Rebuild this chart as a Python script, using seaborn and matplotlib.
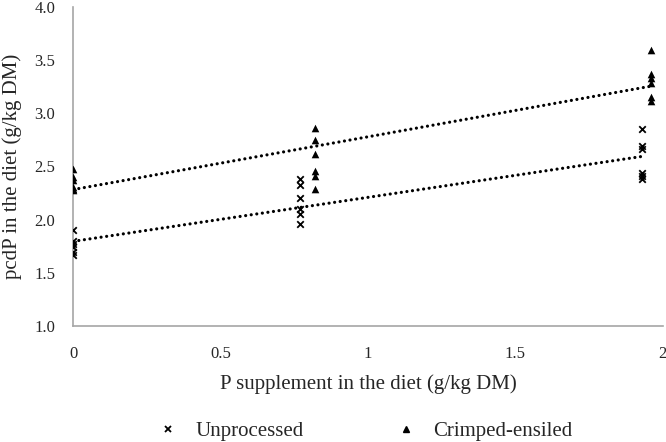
import numpy as np
import pandas as pd
import seaborn as sns
import matplotlib.pyplot as plt
from matplotlib.lines import Line2D

# P supplement (g/kg DM) and pcdP (g/kg DM) per observation
unproc_x = [0, 0, 0, 0, 0, 0,
            0.77, 0.77, 0.77, 0.77, 0.77, 0.77,
            1.93, 1.93, 1.93, 1.93, 1.93, 1.93]
unproc_y = [1.90, 1.80, 1.77, 1.74, 1.70, 1.67,
            2.38, 2.33, 2.20, 2.10, 2.05, 1.96,
            2.85, 2.69, 2.66, 2.44, 2.41, 2.38]
crimp_x = [0, 0, 0, 0, 0, 0,
           0.82, 0.82, 0.82, 0.82, 0.82, 0.82,
           1.96, 1.96, 1.96, 1.96, 1.96, 1.96]
crimp_y = [2.48, 2.40, 2.37, 2.31, 2.29, 2.28,
           2.86, 2.75, 2.62, 2.46, 2.41, 2.29,
           3.59, 3.37, 3.33, 3.28, 3.15, 3.11]
series_names = ["Unprocessed", "Crimped-ensiled"]

df = pd.DataFrame({
    "x": unproc_x + crimp_x,
    "y": unproc_y + crimp_y,
    "group": [series_names[0]] * len(unproc_x) + [series_names[1]] * len(crimp_x),
})

sns.set_style("white")
plt.rcParams["font.family"] = ["Liberation Serif", "DejaVu Serif"]

fig = plt.figure(figsize=(6.66, 4.42), dpi=100)
ax = fig.add_axes([0.11, 0.262, 0.885, 0.723])

markers = {"Unprocessed": "x", "Crimped-ensiled": "^"}
sizes = {"Unprocessed": 22, "Crimped-ensiled": 30}
for name in series_names:
    sub = df[df["group"] == name]
    # Excel-style linear trendline across the data range
    sns.regplot(data=sub, x="x", y="y", ax=ax, scatter=False, ci=None, truncate=True,
                line_kws=dict(color="black", lw=2.3, linestyle=(0, (0.01, 1.75)),
                              dash_capstyle="round", solid_capstyle="round"))
    sns.scatterplot(data=sub, x="x", y="y", ax=ax, marker=markers[name], color="black",
                    s=sizes[name], linewidth=1.3 if name == "Unprocessed" else 0,
                    edgecolor="black", legend=False, zorder=3)

ax.set_xlim(0, 2)
ax.set_ylim(1.0, 4.0)
ax.set_xticks([0, 0.5, 1, 1.5, 2])
ax.set_xticklabels(["0", "0.5", "1", "1.5", "2"])
ax.set_yticks(np.arange(1.0, 4.01, 0.5))
ax.set_yticklabels([f"{v:.1f}" for v in np.arange(1.0, 4.01, 0.5)])
ax.tick_params(axis="both", length=0, labelsize=12)
ax.tick_params(axis="x", pad=14)
ax.tick_params(axis="y", pad=13)

sns.despine(ax=ax)
for side in ["left", "bottom"]:
    ax.spines[side].set_color("#a6a6a6")
    ax.spines[side].set_linewidth(1.2)

ax.set_xlabel("P supplement in the diet (g/kg DM)", fontsize=15, labelpad=9)
ax.set_ylabel("pcdP in the diet (g/kg DM)", fontsize=15, labelpad=9)

handles = [Line2D([], [], marker="x", color="black", lw=0, markersize=4.5, markeredgewidth=1.3),
           Line2D([], [], marker="^", color="black", lw=0, markersize=5)]
fig.legend(handles, series_names, loc="center", bbox_to_anchor=(0.548, 0.024), ncol=2,
           frameon=False, fontsize=15, handlelength=1, handletextpad=0.8, columnspacing=4.4)

plt.savefig("out.png", dpi=100)
plt.close()
